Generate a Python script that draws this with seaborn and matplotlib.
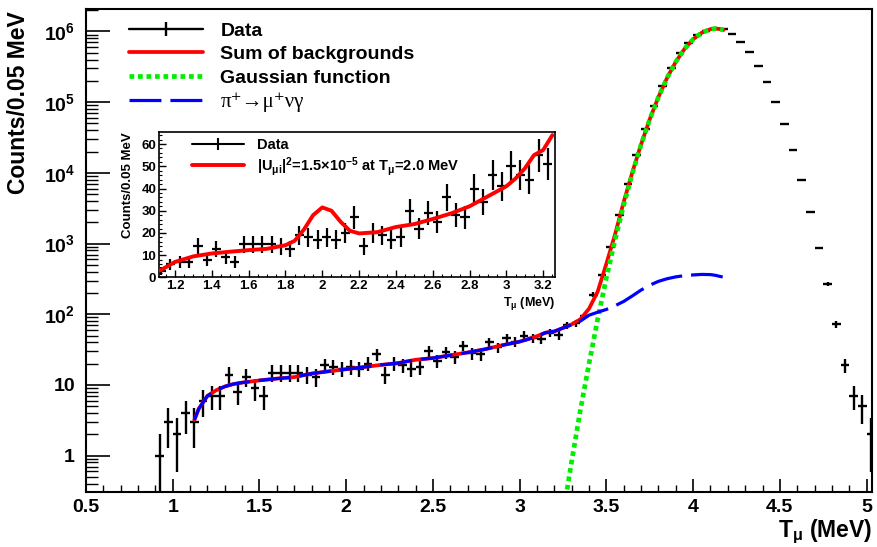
import numpy as np
import pandas as pd
import matplotlib
matplotlib.use("Agg")
import matplotlib.pyplot as plt
import seaborn as sns
from matplotlib.ticker import FixedLocator, FixedFormatter, MultipleLocator, LogLocator, NullFormatter
from matplotlib.lines import Line2D

# ------------------------------------------------------------------ data
bin_centers = [0.925, 0.975, 1.025, 1.075, 1.125, 1.175, 1.225, 1.275, 1.325, 1.375,
               1.425, 1.475, 1.525, 1.575, 1.625, 1.675, 1.725, 1.775, 1.825, 1.875,
               1.925, 1.975, 2.025, 2.075, 2.125, 2.175, 2.225, 2.275, 2.325, 2.375,
               2.425, 2.475, 2.525, 2.575, 2.625, 2.675, 2.725, 2.775, 2.825, 2.875,
               2.925, 2.975, 3.025, 3.075, 3.125, 3.175, 3.225, 3.275, 3.325, 3.375,
               3.425, 3.475, 3.525, 3.575, 3.625, 3.675, 3.725, 3.775, 3.825, 3.875,
               3.925, 3.975, 4.025, 4.075, 4.125, 4.175, 4.225, 4.275, 4.325, 4.375,
               4.425, 4.475, 4.525, 4.575, 4.625, 4.675, 4.725, 4.775, 4.825, 4.875,
               4.925, 4.975, 5.025]
counts = [1, 3, 2, 4, 3, 6, 7, 7, 14, 8,
          13, 9, 7, 15, 15, 15, 15, 14, 13, 19,
          18, 17, 18, 17, 20, 27, 14, 20, 19, 17,
          18, 30, 22, 29, 25, 36, 28, 27, 40, 34,
          46, 41, 50, 46, 44, 55, 51, 70, 75, 95,
          190, 357, 904, 2540, 6970, 17900, 41800, 89300, 171000, 300000,
          490000, 680000, 890000, 1020000, 1100000, 1070000, 910000, 700000, 510000, 325000,
          193000, 100000, 49000, 21000, 8000, 2800, 875, 269, 72, 19,
          7, 5, 2]

# Sum of backgrounds (main panel)
bkg_x = [1.125, 1.15, 1.2, 1.25, 1.3, 1.35, 1.4, 1.5, 1.6, 1.7, 1.8, 1.9, 2.0, 2.1, 2.2,
         2.3, 2.4, 2.5, 2.6, 2.7, 2.8, 2.9, 3.0, 3.05, 3.1, 3.15, 3.2, 3.25, 3.3, 3.35,
         3.4, 3.45, 3.5, 3.55, 3.6, 3.65, 3.7, 3.75, 3.8, 3.85, 3.9, 3.95, 4.0, 4.05,
         4.1, 4.13, 4.15, 4.175]
bkg_y = [3.2, 4.6, 7.0, 8.4, 9.5, 10.3, 10.8, 11.6, 12.3, 12.9, 14.5, 15.6, 16.7, 17.9, 19.2,
         20.4, 22.7, 24.0, 26.3, 28.8, 32.0, 36.5, 41.0, 44.5, 49.0, 55.0, 57.3, 64.0, 72.0, 85.0,
         120, 210, 520, 1350, 3900, 10300, 25300, 57500, 118300, 221300, 372300, 565400, 776400, 962400,
         1080000, 1100000, 1088000, 1050000]

# Gaussian function
gaus_x = [3.25, 3.3, 3.35, 3.4, 3.45, 3.5, 3.55, 3.6, 3.65, 3.7, 3.75, 3.8, 3.85, 3.9,
          3.95, 4.0, 4.05, 4.1, 4.13, 4.15, 4.175]
gaus_y = [0.146, 0.84, 4.4, 20, 86, 328, 1130, 3520, 9890, 25000, 57300, 118000, 221000, 372000,
          565000, 776000, 962000, 1080000, 1100000, 1087000, 1050000]

# pi+ -> mu+ nu gamma
rad_x = [1.125, 1.15, 1.2, 1.25, 1.3, 1.35, 1.4, 1.5, 1.6, 1.7, 1.8, 1.9, 2.0, 2.1, 2.2,
         2.3, 2.4, 2.5, 2.6, 2.7, 2.8, 2.9, 3.0, 3.05, 3.1, 3.15, 3.2, 3.25, 3.3, 3.35,
         3.4, 3.45, 3.5, 3.55, 3.6, 3.65, 3.7, 3.75, 3.8, 3.85, 3.9, 3.95, 4.0, 4.05,
         4.1, 4.13, 4.15, 4.175]
rad_y = [3.2, 4.6, 7.0, 8.4, 9.5, 10.3, 10.8, 11.6, 12.3, 12.9, 14.5, 15.6, 16.7, 17.9, 19.2,
         20.4, 22.7, 24.0, 26.3, 28.8, 32.0, 36.5, 41.0, 44.5, 49.0, 55.0, 57.3, 64.0, 71.0, 80.0,
         97, 107, 117, 132, 152, 182, 220, 258, 292, 318, 338, 352, 360, 366,
         364, 355, 345, 335]

# inset: background + signal with |U|^2 = 1.5e-5 at T = 2.0 MeV
inset_fit_x = [1.12, 1.2, 1.3, 1.4, 1.5, 1.6, 1.7, 1.8, 1.85, 1.9, 1.95, 2.0, 2.05, 2.1, 2.15,
               2.2, 2.3, 2.4, 2.5, 2.6, 2.7, 2.8, 2.9, 3.0, 3.05, 3.1, 3.15, 3.2, 3.25]
inset_fit_y = [3.2, 7.0, 9.5, 10.8, 11.6, 12.3, 12.9, 14.5, 16.5, 21.5, 28.0, 31.5, 30.0, 25.0, 21.0,
               19.8, 20.4, 22.7, 24.0, 26.3, 28.8, 32.0, 36.5, 41.0, 44.5, 49.0, 55.0, 57.3, 64.0]

x_ticks = [0.5, 1, 1.5, 2, 2.5, 3, 3.5, 4, 4.5, 5]
x_tick_labels = ["0.5", "1", "1.5", "2", "2.5", "3", "3.5", "4", "4.5", "5"]
y_ticks = [1, 10, 1e2, 1e3, 1e4, 1e5, 1e6]
y_tick_labels = ["1", "10", "$10^{2}$", "$10^{3}$", "$10^{4}$", "$10^{5}$", "$10^{6}$"]
inset_x_ticks = [1.2, 1.4, 1.6, 1.8, 2.0, 2.2, 2.4, 2.6, 2.8, 3.0, 3.2]
inset_x_tick_labels = ["1.2", "1.4", "1.6", "1.8", "2", "2.2", "2.4", "2.6", "2.8", "3", "3.2"]
inset_y_ticks = [0, 10, 20, 30, 40, 50, 60]
inset_y_tick_labels = ["0", "10", "20", "30", "40", "50", "60"]

legend_labels = ["Data", "Sum of backgrounds", "Gaussian function", "π⁺→μ⁺νγ"]
inset_legend_labels = ["Data", r"|U$_{\mu i}$|$^{2}$=1.5$\times$10$^{-5}$ at T$_{\mu}$=2.0 MeV"]

# ------------------------------------------------------------------ style
sns.set_theme(style="ticks")
plt.rcParams.update({
    "font.family": ["Liberation Sans", "DejaVu Sans"],
    "font.weight": "bold",
    "axes.labelweight": "bold",
    "mathtext.fontset": "custom",
    "mathtext.rm": "Liberation Sans:bold",
    "mathtext.it": "Liberation Sans:bold",
    "mathtext.bf": "Liberation Sans:bold",
    "mathtext.default": "rm",
    "text.color": "black",
    "axes.labelcolor": "black",
    "axes.edgecolor": "black",
    "xtick.color": "black",
    "ytick.color": "black",
    "axes.facecolor": "white",
    "figure.facecolor": "white",
})

fig = plt.figure(figsize=(8.77, 5.47), dpi=100)
ax = fig.add_axes([0.09806, 0.1000, 0.8966, 0.8830])

df = pd.DataFrame({"T": bin_centers, "N": counts})
df["err"] = np.sqrt(df["N"])

# data
ax.errorbar(df["T"], df["N"], xerr=0.025, yerr=df["err"], fmt="none",
            ecolor="black", elinewidth=1.7, capsize=0, zorder=2)

# curves
sns.lineplot(x=bkg_x, y=bkg_y, ax=ax, color="#ff0000", linewidth=2.7,
             estimator=None, legend=False, zorder=3)
h_bkg = ax.lines[-1]
sns.lineplot(x=gaus_x, y=gaus_y, ax=ax, color="#00ee00", linewidth=3.4,
             estimator=None, legend=False, zorder=4)
h_gaus = ax.lines[-1]
h_gaus.set_linestyle((0, (1.0, 0.8)))
h_gaus.set_dash_capstyle("butt")
sns.lineplot(x=rad_x, y=rad_y, ax=ax, color="#0000ff", linewidth=2.3,
             estimator=None, legend=False, zorder=5)
h_rad = ax.lines[-1]
h_rad.set_linestyle((0, (10, 2.8)))

ax.set_yscale("log")
ax.set_xlim(0.5, 5.033)
ax.set_ylim(0.303, 2.06e6)

ax.xaxis.set_major_locator(FixedLocator(x_ticks))
ax.xaxis.set_major_formatter(FixedFormatter(x_tick_labels))
ax.xaxis.set_minor_locator(MultipleLocator(0.1))
ax.yaxis.set_major_locator(FixedLocator(y_ticks))
ax.yaxis.set_major_formatter(FixedFormatter(y_tick_labels))
ax.yaxis.set_minor_locator(LogLocator(base=10, subs=np.arange(2, 10)))
ax.yaxis.set_minor_formatter(NullFormatter())

ax.tick_params(axis="x", which="major", direction="in", length=9.5, width=1.2,
               labelsize=14, pad=4.5, top=False)
ax.tick_params(axis="x", which="minor", direction="in", length=5, width=1.0, top=False)
ax.tick_params(axis="y", which="major", direction="in", length=17, width=1.2,
               labelsize=14, pad=8, right=False)
ax.tick_params(axis="y", which="minor", direction="in", length=8.5, width=1.0, right=False)
for lab in ax.get_xticklabels() + ax.get_yticklabels():
    lab.set_fontweight("bold")
for sp in ax.spines.values():
    sp.set_linewidth(1.5)
    sp.set_visible(True)

ax.set_xlabel(r"T$_{\mu}$ (MeV)", fontsize=16.5, fontweight="bold", loc="right")
ax.xaxis.set_label_coords(1.0, -0.052)
ax.set_ylabel("Counts/0.05 MeV", fontsize=16.5, fontweight="bold", loc="top")
ax.yaxis.set_label_coords(-0.071, 0.995)

h_data = Line2D([], [], color="black", lw=1.7, marker="|", markersize=10, markeredgewidth=1.7)
leg = ax.legend(handles=[h_data, h_bkg, h_gaus, h_rad], labels=legend_labels,
                loc="upper left", bbox_to_anchor=(0.0547, 0.9737), frameon=False,
                fontsize=14, handlelength=3.8, handletextpad=0.9, labelspacing=0.3,
                borderpad=0, borderaxespad=0)
for t in leg.get_texts():
    t.set_fontweight("bold")
t4 = leg.get_texts()[3]
t4.set_fontfamily(["Liberation Serif", "DejaVu Serif"])
t4.set_fontweight("normal")
t4.set_fontsize(15)

# ------------------------------------------------------------------ inset
ax2 = fig.add_axes([0.1813, 0.4927, 0.4515, 0.2660], zorder=10)
ax2.set_facecolor("white")
inset_xlim = (1.113, 3.264)
dfi = df[(df["T"] > inset_xlim[0]) & (df["T"] < inset_xlim[1])]
ax2.errorbar(dfi["T"], dfi["N"], xerr=0.025, yerr=dfi["err"], fmt="none",
             ecolor="black", elinewidth=1.6, capsize=0, zorder=2)
sns.lineplot(x=inset_fit_x, y=inset_fit_y, ax=ax2, color="#ff0000", linewidth=2.8,
             estimator=None, legend=False, zorder=3)
h2_fit = ax2.lines[-1]
ax2.set_xlim(*inset_xlim)
ax2.set_ylim(0, 65.4)
ax2.xaxis.set_major_locator(FixedLocator(inset_x_ticks))
ax2.xaxis.set_major_formatter(FixedFormatter(inset_x_tick_labels))
ax2.xaxis.set_minor_locator(MultipleLocator(0.05))
ax2.yaxis.set_major_locator(FixedLocator(inset_y_ticks))
ax2.yaxis.set_major_formatter(FixedFormatter(inset_y_tick_labels))
ax2.yaxis.set_minor_locator(MultipleLocator(2))
ax2.tick_params(axis="both", which="major", direction="in", length=5, width=1.0,
                labelsize=9.5, pad=2, top=False, right=False)
ax2.tick_params(axis="both", which="minor", direction="in", length=2.5, width=0.8,
                top=False, right=False)
for lab in ax2.get_xticklabels() + ax2.get_yticklabels():
    lab.set_fontweight("bold")
for sp in ax2.spines.values():
    sp.set_linewidth(1.2)
    sp.set_visible(True)
ax2.set_xlabel(r"T$_{\mu}$ (MeV)", fontsize=9, fontweight="bold", loc="right")
ax2.xaxis.set_label_coords(1.0, -0.118)
ax2.set_ylabel("Counts/0.05 MeV", fontsize=9.5, fontweight="bold", loc="top")
ax2.yaxis.set_label_coords(-0.062, 1.0)

h2_data = Line2D([], [], color="black", lw=1.5, marker="|", markersize=9, markeredgewidth=1.5)
leg2 = ax2.legend(handles=[h2_data, h2_fit], labels=inset_legend_labels,
                  loc="upper left", bbox_to_anchor=(0.083, 0.96), frameon=False,
                  fontsize=10.5, handlelength=3.6, handletextpad=0.9, labelspacing=0.2,
                  borderpad=0, borderaxespad=0)
for t in leg2.get_texts():
    t.set_fontweight("bold")

fig.savefig("out.png", dpi=100)
